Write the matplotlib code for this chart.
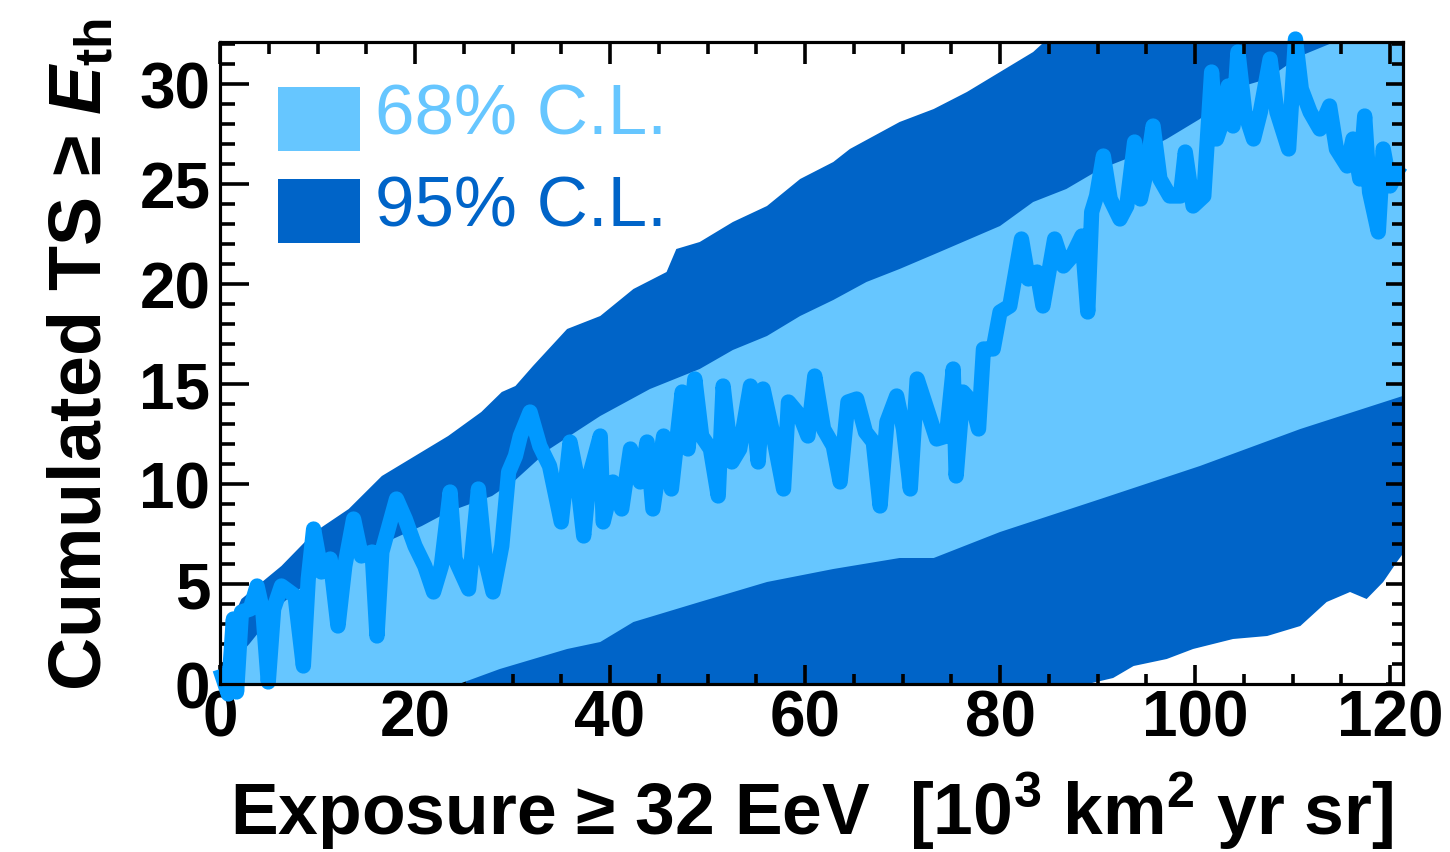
import numpy as np
import matplotlib
matplotlib.use("Agg")
import matplotlib.pyplot as plt
from matplotlib.ticker import MultipleLocator
from matplotlib.patches import Rectangle

plt.rcParams['font.family'] = ['Liberation Sans', 'DejaVu Sans']
plt.rcParams['mathtext.fontset'] = 'custom'
plt.rcParams['mathtext.rm'] = 'Liberation Sans:bold'
plt.rcParams['mathtext.bf'] = 'Liberation Sans:bold'
plt.rcParams['mathtext.it'] = 'Liberation Sans:italic:bold'

# ---------------- data ----------------
# observed cumulated TS
ts_x = [0.0, 0.85, 1.37, 1.7, 2.2, 3.1, 3.8, 4.4, 4.95, 5.5,
        6.3, 7.7, 8.55, 9.05, 9.6, 10.4, 11.3, 12.1, 12.8, 13.7,
        14.5, 15.6, 16.1, 16.6, 18.1, 19.0, 20.0, 21.0, 21.9, 22.7,
        23.6, 24.1, 25.5, 26.5, 27.2, 28.0, 28.9, 29.6, 30.3, 30.8,
        31.8, 32.8, 33.8, 35.0, 35.9, 36.6, 37.3, 37.9, 39.0, 39.3,
        40.3, 41.2, 42.1, 43.1, 43.8, 44.4, 45.5, 46.3, 47.4, 48.0,
        48.7, 49.4, 50.3, 51.1, 51.6, 52.5, 53.3, 54.4, 55.2, 55.7,
        56.75, 57.8, 58.3, 59.5, 60.3, 61.0, 61.9, 62.9, 63.6, 64.4,
        65.3, 66.2, 67.0, 67.7, 68.4, 69.4, 70.1, 70.8, 71.5, 72.5,
        73.5, 74.5, 75.2, 75.5, 76.2, 77.1, 77.8, 78.3, 79.3, 80.0,
        81.0, 82.2, 82.9, 83.8, 84.4, 85.6, 86.5, 87.4, 88.4, 89.0,
        89.4, 89.9, 90.6, 91.3, 92.3, 93.0, 93.8, 94.4, 95.0, 95.7,
        96.4, 97.4, 98.5, 99.0, 99.8, 100.9, 101.7, 102.2, 102.9, 103.4,
        103.9, 104.4, 105.1, 106.0, 106.7, 107.7, 108.4, 109.6, 110.3, 110.9,
        111.8, 112.8, 113.8, 114.5, 115.6, 116.2, 116.9, 117.4, 117.9, 118.8,
        119.3, 120.0, 120.7, 121.3]
ts_y = [0.75, -0.5, 3.25, -0.4, 3.6, 3.75, 4.9, 3.6, 0.1, 3.75,
        4.9, 4.4, 0.9, 5.25, 7.75, 5.6, 6.25, 2.9, 5.9, 8.25,
        6.4, 6.6, 2.4, 6.6, 9.25, 8.25, 6.9, 5.9, 4.6, 5.9,
        9.6, 6.25, 4.75, 9.75, 6.25, 4.6, 6.9, 10.6, 11.4, 12.4,
        13.6, 11.9, 10.9, 8.1, 12.1, 10.4, 7.4, 10.4, 12.4, 8.1,
        10.1, 8.75, 11.75, 10.1, 12.1, 8.75, 12.4, 9.75, 14.6, 11.75,
        15.25, 12.4, 11.75, 9.4, 14.9, 11.1, 11.75, 14.9, 11.1, 14.75,
        12.4, 9.75, 14.1, 13.4, 12.4, 15.4, 12.75, 11.9, 10.1, 14.1,
        14.25, 12.6, 12.1, 8.9, 13.1, 14.4, 12.75, 9.75, 15.25, 13.75,
        12.25, 12.4, 15.75, 10.4, 14.6, 14.1, 12.75, 16.75, 16.75, 18.6,
        18.9, 22.25, 20.25, 20.6, 18.9, 22.25, 20.9, 21.4, 22.4, 18.6,
        23.6, 24.4, 26.4, 24.25, 23.25, 23.9, 27.1, 24.25, 25.6, 27.9,
        25.25, 24.4, 24.4, 26.6, 23.9, 24.4, 30.6, 27.25, 28.25, 29.9,
        27.9, 31.6, 28.6, 27.25, 28.6, 31.25, 28.6, 26.75, 32.25, 29.75,
        28.6, 27.75, 28.9, 26.75, 25.9, 27.25, 25.25, 28.4, 24.6, 22.6,
        26.75, 24.9, 25.6, 25.4]

# 95% C.L. band
u95_x = [0, 1.5, 2.2, 6.3, 9.7, 13.2, 16.6, 20.0, 23.4, 26.8,
         28.9, 30.3, 32.1, 35.6, 39.0, 42.4, 45.8, 46.8, 49.2, 52.6,
         56.1, 59.5, 62.9, 64.6, 69.7, 73.2, 76.6, 80.0, 83.4, 84.3,
         90, 100, 110, 121.3]
u95_y = [0.5, 3.5, 4.25, 5.9, 7.6, 8.75, 10.4, 11.4, 12.4, 13.6,
         14.6, 14.9, 15.9, 17.75, 18.4, 19.75, 20.6, 21.75, 22.1, 23.1,
         23.9, 25.25, 26.1, 26.75, 28.1, 28.75, 29.6, 30.6, 31.6, 32.0,
         33.8, 36.6, 39.4, 42.5]
l95_x = [0, 89.0, 91.6, 93.7, 97.1, 99.8, 103.9, 107.4, 110.8, 113.5,
         115.9, 117.6, 119.3, 120.7, 121.3]
l95_y = [0, 0, 0.3, 0.9, 1.25, 1.75, 2.25, 2.4, 2.9, 4.1,
         4.6, 4.25, 5.1, 6.1, 6.5]

# 68% C.L. band
u68_x = [0, 3.0, 6.3, 10.0, 14.0, 17.5, 20.7, 23.4, 27.9, 30.3,
         33.8, 39.0, 44.1, 49.2, 52.6, 56.1, 59.5, 62.9, 66.3, 69.7,
         73.8, 80.0, 83.4, 86.8, 90.3, 93.7, 97.1, 100.5, 103.9, 107.4,
         110.8, 113.8, 117.5, 121.3]
u68_y = [0.4, 2.0, 4.0, 5.5, 6.5, 7.2, 7.9, 8.6, 9.4, 10.2,
         11.75, 13.4, 14.75, 15.75, 16.7, 17.4, 18.4, 19.2, 20.1, 20.75,
         21.6, 22.9, 24.1, 24.75, 25.75, 26.4, 27.25, 28.25, 29.75, 30.25,
         31.4, 32.0, 33.0, 34.0]
l68_x = [0, 24.5, 28.7, 35.6, 39.0, 42.4, 49.2, 56.1, 62.9, 69.7,
         73.2, 80.0, 90.3, 100.5, 110.8, 121.3]
l68_y = [0, 0, 0.75, 1.75, 2.1, 3.1, 4.1, 5.1, 5.75, 6.3,
         6.3, 7.6, 9.25, 10.9, 12.75, 14.4]

legend_labels = ["68% C.L.", "95% C.L."]

# ---------------- style ----------------
c68 = "#66C6FF"
c95 = "#0064C8"
cts = "#0099FF"

W, H = 1450, 853
fig = plt.figure(figsize=(W / 100, H / 100), dpi=100)
fig.patch.set_facecolor("white")
ax = fig.add_axes([220 / W, 1 - 685 / H, 1183 / W, 642 / H])

xlim = (0, 121.33)
ylim = (0, 32.1)

# bands
ax.fill(list(u95_x) + list(l95_x[::-1]), list(u95_y) + list(l95_y[::-1]),
        color=c95, lw=0, zorder=1)
ax.fill(list(u68_x) + list(l68_x[::-1]), list(u68_y) + list(l68_y[::-1]),
        color=c68, lw=0, zorder=2)
# observed TS
ax.plot(ts_x, ts_y, color=cts, lw=11, solid_joinstyle='round',
        solid_capstyle='butt', zorder=3, clip_on=False)

ax.set_xlim(*xlim)
ax.set_ylim(*ylim)

lw_sp = 2.2
for s in ax.spines.values():
    s.set_linewidth(lw_sp)
    s.set_zorder(10)

ax.xaxis.set_major_locator(MultipleLocator(20))
ax.xaxis.set_minor_locator(MultipleLocator(5))
ax.yaxis.set_major_locator(MultipleLocator(5))
ax.yaxis.set_minor_locator(MultipleLocator(1))
ax.tick_params(which='both', direction='in', width=2.6, top=False, right=False)
ax.tick_params(axis='y', which='major', length=21, pad=7)
ax.tick_params(axis='y', which='minor', length=11)
ax.tick_params(axis='x', which='major', length=14, pad=3)
ax.tick_params(axis='x', which='minor', length=7)
for lab in ax.get_xticklabels() + ax.get_yticklabels():
    lab.set_fontsize(46)
    lab.set_fontweight('bold')

# right ticks
axr = ax.twinx()
axr.set_ylim(*ylim)
axr.yaxis.set_major_locator(MultipleLocator(5))
axr.yaxis.set_minor_locator(MultipleLocator(1))
axr.tick_params(axis='y', which='major', direction='in', length=12, width=2.6, labelright=False)
axr.tick_params(axis='y', which='minor', direction='in', length=8, width=2.6)
# top ticks
axt = ax.twiny()
axt.set_xlim(*xlim)
axt.xaxis.set_major_locator(MultipleLocator(20))
axt.xaxis.set_minor_locator(MultipleLocator(5))
axt.tick_params(axis='x', which='major', direction='in', length=16, width=2.6, labeltop=False)
axt.tick_params(axis='x', which='minor', direction='in', length=8.5, width=2.6)
for a in (axr, axt):
    for s in a.spines.values():
        s.set_linewidth(lw_sp)

# axis labels
ax.set_xlabel("Exposure \u2265 32 EeV  [10$^{3}$ km$^{2}$ yr sr]",
              fontsize=51.5, fontweight='bold')
ax.xaxis.set_label_coords(0.5, -0.133)
ax.set_ylabel("Cumulated TS \u2265 $E_{\\mathrm{th}}$", fontsize=53, fontweight='bold')
ax.yaxis.set_label_coords(-0.088, 0.515)

# legend
boxes = [((0.049, 0.830), c68), ((0.049, 0.687), c95)]
for (pos, col), lab, ty in zip(boxes, legend_labels, [0.885, 0.742]):
    ax.add_patch(Rectangle(pos, 0.069, 0.100, transform=ax.transAxes,
                           facecolor=col, edgecolor='none', zorder=5))
    ax.text(0.131, ty, lab, transform=ax.transAxes, color=col,
            fontsize=51, va='center', ha='left', zorder=5)

fig.savefig("out.png", dpi=100)
